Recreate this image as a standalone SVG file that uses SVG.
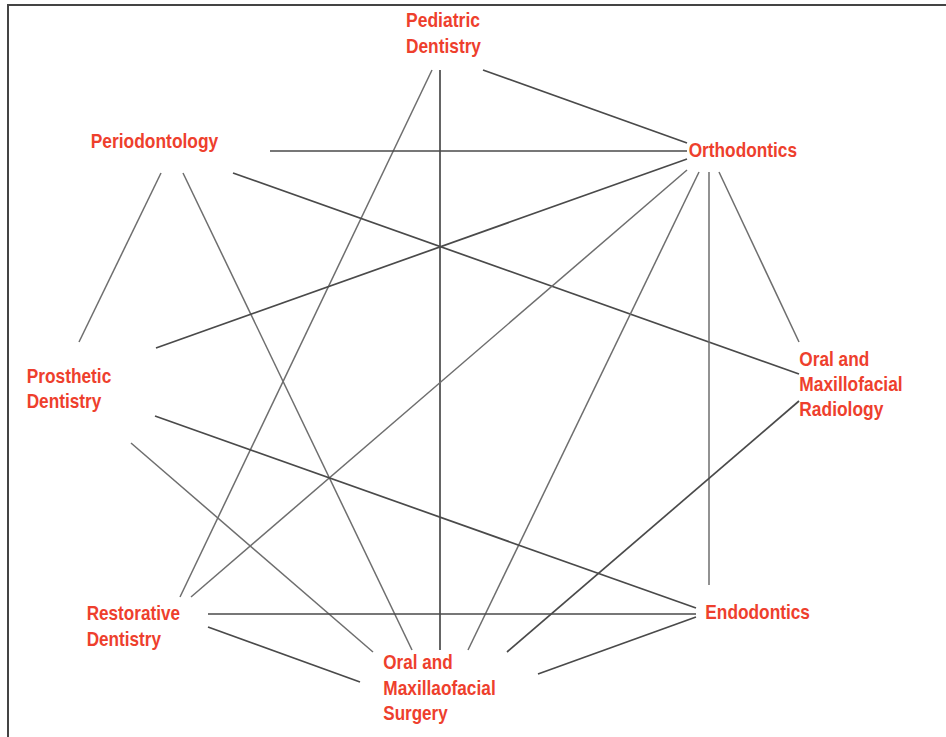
<svg xmlns="http://www.w3.org/2000/svg" width="946" height="737" viewBox="0 0 946 737">
<style>
.frame{fill:none;stroke:#444;stroke-width:2}
.c{stroke:#4a4a4a;stroke-width:1.7;fill:none}
.l{stroke:#6e6e6e;stroke-width:1.5;fill:none}
.t{font-family:"Liberation Sans",Arial,sans-serif;font-weight:bold;font-size:20.5px;fill:#ee3f2d}
</style>
<rect width="946" height="737" fill="#fff"/>
<path class="frame" d="M8,737 V5 H946"/>
<g id="connectors">
<line class="c" x1="483" y1="70" x2="687" y2="143"/>
<line class="c" x1="440" y1="70" x2="440" y2="650"/>
<line class="l" x1="432" y1="70" x2="180" y2="597"/>
<line class="c" x1="270" y1="151" x2="687" y2="151"/>
<line class="c" x1="233" y1="173" x2="799" y2="374"/>
<line class="l" x1="161" y1="173" x2="79" y2="342"/>
<line class="l" x1="183" y1="173" x2="412" y2="650"/>
<line class="c" x1="687" y1="159" x2="156" y2="348"/>
<line class="l" x1="687" y1="170" x2="191" y2="597"/>
<line class="l" x1="699" y1="172" x2="468" y2="650"/>
<line class="l" x1="709" y1="172" x2="709" y2="585"/>
<line class="l" x1="719" y1="172" x2="799" y2="342"/>
<line class="c" x1="155" y1="416" x2="696" y2="608"/>
<line class="l" x1="131" y1="443" x2="373" y2="652"/>
<line class="c" x1="208" y1="614" x2="696" y2="614"/>
<line class="c" x1="208" y1="627" x2="360" y2="682"/>
<line class="c" x1="696" y1="617" x2="538" y2="674"/>
<line class="c" x1="799" y1="401" x2="507" y2="652"/>
</g>
<g id="pediatric">
<text class="t" x="406" y="27.3" textLength="74" lengthAdjust="spacingAndGlyphs">Pediatric</text>
<text class="t" x="406" y="52.7" textLength="75" lengthAdjust="spacingAndGlyphs">Dentistry</text>
</g>
<g id="periodontology">
<text class="t" x="90.7" y="147.7" textLength="127.6" lengthAdjust="spacingAndGlyphs">Periodontology</text>
</g>
<g id="orthodontics">
<text class="t" x="688.7" y="156.7" textLength="108.3" lengthAdjust="spacingAndGlyphs">Orthodontics</text>
</g>
<g id="prosthetic">
<text class="t" x="26.7" y="382.7" textLength="84.6" lengthAdjust="spacingAndGlyphs">Prosthetic</text>
<text class="t" x="26.7" y="408.3" textLength="74.6" lengthAdjust="spacingAndGlyphs">Dentistry</text>
</g>
<g id="radiology">
<text class="t" x="799.3" y="365.7" textLength="70" lengthAdjust="spacingAndGlyphs">Oral and</text>
<text class="t" x="799.3" y="391" textLength="103.4" lengthAdjust="spacingAndGlyphs">Maxillofacial</text>
<text class="t" x="799.3" y="415.7" textLength="84" lengthAdjust="spacingAndGlyphs">Radiology</text>
</g>
<g id="restorative">
<text class="t" x="86.7" y="620" textLength="93.3" lengthAdjust="spacingAndGlyphs">Restorative</text>
<text class="t" x="86.7" y="645.7" textLength="74.3" lengthAdjust="spacingAndGlyphs">Dentistry</text>
</g>
<g id="surgery">
<text class="t" x="383.3" y="669" textLength="69.4" lengthAdjust="spacingAndGlyphs">Oral and</text>
<text class="t" x="383.3" y="695" textLength="112.4" lengthAdjust="spacingAndGlyphs">Maxillaofacial</text>
<text class="t" x="383.3" y="720" textLength="64.4" lengthAdjust="spacingAndGlyphs">Surgery</text>
</g>
<g id="endodontics">
<text class="t" x="705.3" y="619.3" textLength="104.7" lengthAdjust="spacingAndGlyphs">Endodontics</text>
</g>
</svg>
